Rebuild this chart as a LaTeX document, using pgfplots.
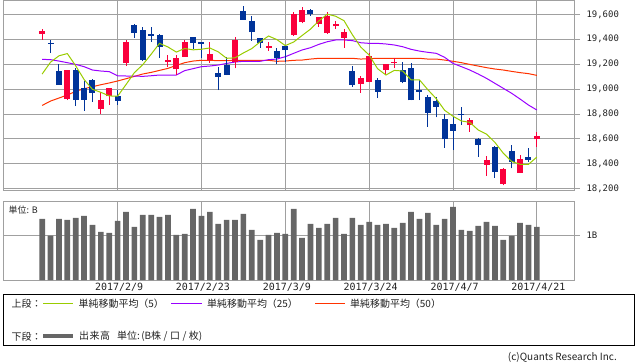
\documentclass[border=0pt]{standalone}
\usepackage{pgfplots}
\usepackage{pgfplotstable}
\pgfplotsset{compat=1.18}
\usepackage{fontspec}
\setmainfont{DejaVu Sans}
\newfontfamily\jp{Noto Sans CJK JP}
\newfontfamily\mono{DejaVu Sans Mono}
\definecolor{gridc}{HTML}{A0A0A0}
\definecolor{upc}{RGB}{250,0,60}
\definecolor{dnc}{HTML}{003399}
\definecolor{maA}{HTML}{99CC00}
\definecolor{maB}{HTML}{9900FF}
\definecolor{maC}{HTML}{FF3300}
\definecolor{volc}{HTML}{666666}
\definecolor{txtc}{HTML}{222222}

\pgfplotstableread{
i o h l c
0 19445 19482 19394 19466
3 18920 19153 18912 19153
7 18842 18974 18800 18915
8 18941 19008 18875 19008
10 19212 19394 19188 19378
15 19217 19273 19180 19233
16 19158 19273 19113 19252
17 19260 19394 19258 19378
20 19230 19378 19212 19284
23 19220 19420 19166 19394
27 19332 19375 19308 19348
30 19434 19621 19426 19603
31 19538 19661 19528 19635
33 19525 19582 19501 19579
34 19450 19619 19445 19587
35 19504 19546 19485 19522
36 19413 19482 19332 19455
38 19043 19105 18971 19086
39 19059 19292 19057 19265
41 19156 19204 19113 19201
42 19212 19247 19166 19220
51 18711 18770 18658 18751
53 18393 18465 18304 18430
55 18240 18366 18227 18357
57 18328 18470 18326 18438
59 18596 18658 18537 18623
}\upT

\pgfplotstableread{
i o h l c
1 19372 19394 19292 19363
2 19145 19200 19035 19035
4 19153 19172 18864 18915
5 19006 19065 18826 18915
6 19073 19081 18899 18971
9 18944 18992 18875 18907
11 19514 19522 19413 19453
12 19474 19501 19225 19233
13 19445 19501 19380 19429
14 19434 19440 19252 19340
18 19418 19420 19319 19372
19 19375 19378 19252 19364
21 19129 19177 18992 19099
22 19196 19260 19113 19115
24 19627 19667 19557 19557
25 19546 19587 19389 19458
26 19407 19410 19332 19372
28 19306 19330 19198 19252
29 19345 19348 19220 19313
32 19635 19640 19587 19603
37 19145 19185 19019 19035
40 19073 19086 18931 18979
43 19150 19220 19046 19059
44 19166 19206 18909 18909
45 18995 19073 18912 18979
46 18936 18952 18698 18810
47 18904 18939 18773 18858
48 18759 18797 18529 18596
49 18719 18778 18510 18666
50 18800 18858 18711 18792
52 18601 18610 18457 18553
54 18537 18540 18288 18336
56 18502 18550 18363 18417
58 18454 18529 18417 18433
}\dnT

\pgfplotstableread{
i ma5 ma25 ma50
0 19121 19239 18869
1 19216 19236 18904
2 19267 19225 18928
3 19285 19212 18952
4 19187 19198 18982
5 19077 19180 19003
6 18998 19153 19019
7 18974 19145 19035
8 18945 19140 19049
9 18943 19107 19065
10 19036 19105 19083
11 19132 19105 19102
12 19196 19102 19121
13 19280 19107 19134
14 19367 19113 19150
15 19338 19113 19166
16 19297 19113 19190
17 19326 19148 19212
18 19315 19164 19225
19 19320 19180 19231
20 19330 19185 19231
21 19299 19193 19228
22 19247 19206 19228
23 19251 19217 19231
24 19290 19223 19231
25 19325 19223 19231
26 19379 19223 19231
27 19426 19236 19231
28 19397 19241 19223
29 19349 19260 19225
30 19378 19287 19231
31 19430 19314 19233
32 19481 19332 19241
33 19547 19359 19247
34 19601 19380 19247
35 19585 19394 19247
36 19549 19394 19247
37 19436 19389 19247
38 19337 19372 19241
39 19273 19367 19244
40 19164 19367 19247
41 19113 19362 19247
42 19150 19354 19247
43 19145 19340 19247
44 19074 19319 19247
45 19074 19305 19247
46 18995 19295 19241
47 18923 19287 19241
48 18830 19255 19233
49 18782 19206 19223
50 18744 19180 19212
51 18733 19153 19198
52 18672 19121 19185
53 18638 19086 19172
54 18572 19046 19161
55 18485 19006 19153
56 18419 18966 19142
57 18396 18920 19132
58 18396 18872 19124
59 18454 18832 19110
}\maT

\pgfplotstableread{
i v
0 1.363
1 0.993
2 1.363
3 1.341
4 1.385
5 1.430
6 1.230
7 1.074
8 1.052
9 1.319
10 1.519
11 1.185
12 1.452
13 1.452
14 1.407
15 1.452
16 1.007
17 1.030
18 1.585
19 1.430
20 1.519
21 1.252
22 1.341
23 1.341
24 1.474
25 1.119
26 0.896
27 1.007
28 1.052
29 1.030
30 1.585
31 0.941
32 1.252
33 1.163
34 1.252
35 1.385
36 1.030
37 1.385
38 1.230
39 1.296
40 1.230
41 1.252
42 1.163
43 1.274
44 1.519
45 1.363
46 1.496
47 1.230
48 1.363
49 1.630
50 1.119
51 1.096
52 1.207
53 1.296
54 1.207
55 0.896
56 0.985
57 1.274
58 1.230
59 1.185
}\volT

\pgfplotsset{
  panel/.style={
    scale only axis, width=571bp,
    xmin=-4.67, xmax=63.43,
    axis line style={gridc, line width=1bp},
    grid=major, grid style={gridc, line width=1bp},
    xtick={9,19,29,39,49,59},
    xtick style={draw=none},
    ytick style={gridc, line width=1bp},
    major tick length=6bp,
    tick align=outside,
    ytick pos=right, yticklabel pos=right,
    xtick pos=bottom,
    scaled ticks=false,
    /pgf/number format/assume math mode=true,
    /pgf/number format/1000 sep={,},
    yticklabel style={font=\mono\fontsize{9}{10}\selectfont, text=txtc, xshift=3bp},
    xticklabel style={font=\mono\fontsize{10}{12}\selectfont, text=txtc, yshift=6bp, xshift=1.5bp},
  },
  cndl/.style 2 args={draw=none, mark=none, forget plot,
    error bars/.cd, y dir=plus, y explicit, error mark=none,
    error bar style={solid, draw=#1, line width=#2}},
}

\begin{document}
\begin{tikzpicture}
\path[use as bounding box] (0,0) rectangle (638bp,-362bp);

% main price panel
\begin{axis}[panel,
  at={(3bp,-0.5bp)}, anchor=north west, height=189.5bp,
  ymin=18190, ymax=19711,
  ytick={18200,18400,...,19600},
  xticklabels={},
]
\addplot[maC, line width=1bp, mark=none] table[x=i, y=ma50]{\maT};
\addplot[maB, line width=1bp, mark=none] table[x=i, y=ma25]{\maT};
% wicks
\addplot[cndl={upc}{1bp}]
  table[x=i, y=l, y error plus expr=\thisrow{h}-\thisrow{l}]{\upT};
\addplot[cndl={dnc}{1bp}]
  table[x=i, y=l, y error plus expr=\thisrow{h}-\thisrow{l}]{\dnT};
% bodies
\addplot[cndl={upc}{6bp}]
  table[x=i, y=o, y error plus expr=\thisrow{c}-\thisrow{o}]{\upT};
\addplot[cndl={dnc}{6bp}]
  table[x=i, y=c, y error plus expr=\thisrow{o}-\thisrow{c}]{\dnT};
\addplot[maA, line width=1bp, mark=none] table[x=i, y=ma5]{\maT};
\end{axis}

% volume panel
\begin{axis}[panel,
  at={(3bp,-201bp)}, anchor=north west, height=79bp,
  ymin=0, ymax=1.763,
  ytick={1}, yticklabels={1B},
  xticklabels={2017/2/9,2017/2/23,2017/3/9,2017/3/24,2017/4/7,2017/4/21},
]
\addplot[ybar, bar width=5.7bp, bar shift=0pt, fill=volc, draw=none] table[x=i, y=v]{\volT};
\end{axis}

\node[anchor=west, inner sep=0, font=\jp\fontsize{9}{10}\selectfont, text=txtc] at (8.5bp,-210bp) {単位: B};

% legend box
\draw[black, line width=1bp] (3.5bp,-294.5bp) rectangle (634.5bp,-345.5bp);
\begin{scope}[every node/.style={anchor=west, inner sep=0, font=\jp\fontsize{10}{12}\selectfont, text=txtc}]
\node at (11.5bp,-304bp) {上段：};
\draw[maA, line width=1bp] (43bp,-303.5bp) -- (73bp,-303.5bp);
\node at (78.5bp,-304bp) {単純移動平均（5）};
\draw[maB, line width=1bp] (171bp,-303.5bp) -- (202bp,-303.5bp);
\node at (207bp,-304bp) {単純移動平均（25）};
\draw[maC, line width=1bp] (315bp,-303.5bp) -- (345bp,-303.5bp);
\node at (350bp,-304bp) {単純移動平均（50）};
\node at (11.5bp,-336.5bp) {下段：};
\draw[volc, line width=3.5bp] (43bp,-336bp) -- (73bp,-336bp);
\node at (79bp,-336.5bp) {出\kern0.5bp 来\kern0.5bp 高\kern7bp 単位:\kern1.5bp(B株\kern2.5bp/\kern2.5bp口\kern2.5bp/\kern2.5bp枚)};
\end{scope}

\node[anchor=east, inner sep=0, font=\jp\fontsize{10}{12}\selectfont, text=txtc] at (617bp,-357.5bp) {(c)Quants Research Inc.};
\end{tikzpicture}
\end{document}
